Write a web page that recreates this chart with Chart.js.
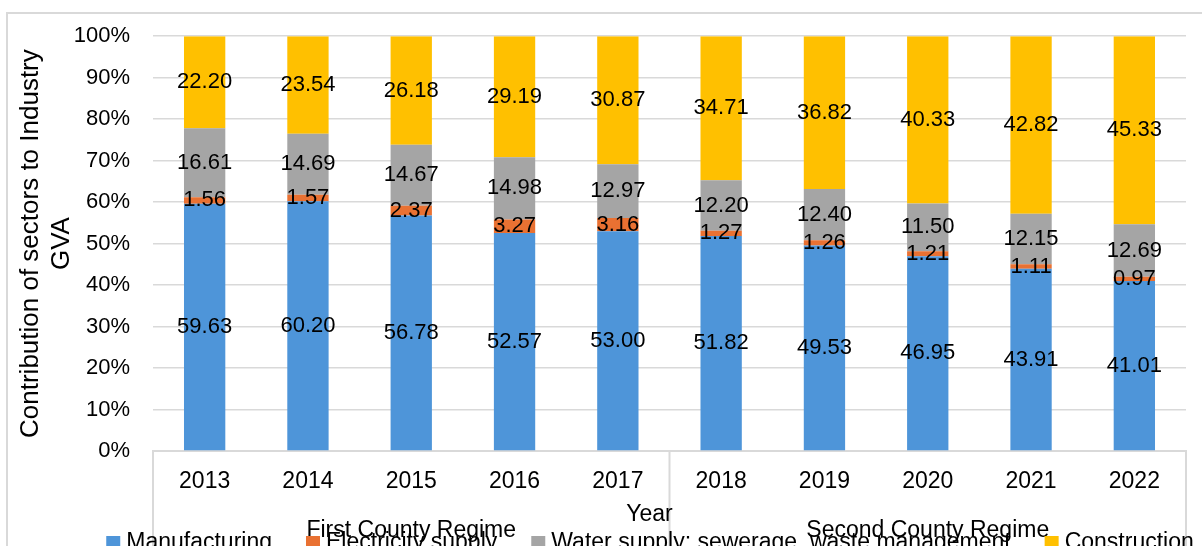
<!DOCTYPE html>
<html><head><meta charset="utf-8">
<script src="https://cdn.jsdelivr.net/npm/chart.js@4/dist/chart.umd.min.js"></script>
<style>
html,body{margin:0;padding:0;background:#fff;overflow:hidden;width:1202px;height:546px}
#frame{position:absolute;left:6px;top:12px;width:1300px;height:700px;border:2px solid #d9d9d9;box-sizing:border-box}
#c{position:absolute;left:0;top:0}
</style></head><body>
<div id="frame"></div>
<canvas id="c" width="1202" height="546"></canvas>
<script>
const years = ['2013','2014','2015','2016','2017','2018','2019','2020','2021','2022'];
const manufacturing = [59.63, 60.20, 56.78, 52.57, 53.00, 51.82, 49.53, 46.95, 43.91, 41.01];
const electricity   = [1.56, 1.57, 2.37, 3.27, 3.16, 1.27, 1.26, 1.21, 1.11, 0.97];
const water         = [16.61, 14.69, 14.67, 14.98, 12.97, 12.20, 12.40, 11.50, 12.15, 12.69];
const construction  = [22.20, 23.54, 26.18, 29.19, 30.87, 34.71, 36.82, 40.33, 42.82, 45.33];
const seriesNames = ['Manufacturing','Electricity supply','Water supply; sewerage, waste management','Construction'];
const seriesColors = ['#4E95D9','#E97132','#A5A5A5','#FFC000'];
const groupNames = ['First County Regime','Second County Regime'];
const groupSizes = [5,5];
const yTitle = ['Contribution of sectors to Industry','GVA'];
const xTitle = 'Year';

const FONT = "'Liberation Sans', Arial, sans-serif";

const dataLabels = {
  id:'dataLabels',
  afterDatasetsDraw(chart){
    const ctx = chart.ctx;
    ctx.save();
    ctx.font = '22px ' + FONT;
    ctx.fillStyle = '#000';
    ctx.textAlign = 'center';
    ctx.textBaseline = 'middle';
    chart.data.datasets.forEach((ds,i)=>{
      const meta = chart.getDatasetMeta(i);
      meta.data.forEach((el,j)=>{
        const p = el.getCenterPoint();
        ctx.fillText(ds.data[j].toFixed(2), p.x, p.y);
      });
    });
    ctx.restore();
  }
};

const axisDecor = {
  id:'axisDecor',
  afterDraw(chart){
    const ctx = chart.ctx, xs = chart.scales.x, area = chart.chartArea;
    const H = chart.height;
    ctx.save();
    const bounds = [xs.left];
    let idx = 0;
    groupSizes.forEach(n=>{
      idx += n;
      if (idx < years.length) bounds.push((xs.getPixelForValue(idx-1)+xs.getPixelForValue(idx))/2);
    });
    bounds.push(xs.right);
    ctx.strokeStyle = '#d9d9d9';
    ctx.lineWidth = 2;
    bounds.forEach(b=>{
      ctx.beginPath(); ctx.moveTo(b, area.bottom); ctx.lineTo(b, H + 5); ctx.stroke();
    });
    ctx.fillStyle = '#000';
    ctx.textAlign = 'center';
    ctx.textBaseline = 'middle';
    ctx.font = '23px ' + FONT;
    ctx.fillText(xTitle, (area.left+area.right)/2 - 20, area.bottom + 64);
    groupNames.forEach((g,i)=>{
      ctx.fillText(g, (bounds[i]+bounds[i+1])/2, area.bottom + 80);
    });
    ctx.font = '23px ' + FONT;
    const box = 14, gapText = 6, gapItem = 34;
    const widths = chart.data.datasets.map(d=>box+gapText+ctx.measureText(d.label).width);
    const total = widths.reduce((a,b)=>a+b,0) + gapItem*(widths.length-1);
    let x = 650 - total/2;
    const ly = area.bottom + 92;
    ctx.textAlign = 'left';
    chart.data.datasets.forEach((d,i)=>{
      ctx.fillStyle = d.backgroundColor;
      ctx.fillRect(x, ly - 7, box, box);
      ctx.fillStyle = '#000';
      ctx.fillText(d.label, x + box + gapText, ly);
      x += widths[i] + gapItem;
    });
    ctx.restore();
  }
};

const seriesData = [manufacturing, electricity, water, construction];

new Chart(document.getElementById('c'), {
  type:'bar',
  data:{
    labels: years,
    datasets: seriesData.map((d,i)=>({
      label: seriesNames[i], data: d, backgroundColor: seriesColors[i],
      borderWidth: 0, barPercentage: 0.4, categoryPercentage: 1.0
    }))
  },
  options:{
    responsive:false, animation:false,
    layout:{padding:{left:11, top:35, right:16, bottom:0}},
    plugins:{legend:{display:false}, tooltip:{enabled:false}},
    scales:{
      x:{
        stacked:true,
        grid:{display:false},
        border:{display:true, color:'#d9d9d9', width:2},
        ticks:{color:'#000', font:{family:FONT, size:23}, padding:9, maxRotation:0},
        afterFit(s){ s.height = 95; }
      },
      y:{
        stacked:true, min:0, max:100,
        grid:{color:'#d9d9d9', lineWidth:1.5, drawTicks:false},
        border:{display:false},
        ticks:{stepSize:10, color:'#000', font:{family:FONT, size:22}, padding:23, callback:v=>v+'%'},
        title:{display:true, text:yTitle, color:'#000', font:{family:FONT, size:26}, padding:{top:4,bottom:4}},
        afterFit(s){ s.width = 142; }
      }
    }
  },
  plugins:[dataLabels, axisDecor]
});
</script>
</body></html>
